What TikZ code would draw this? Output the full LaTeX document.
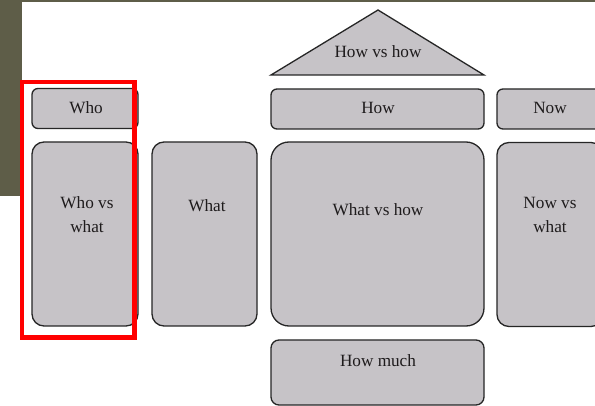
\documentclass[tikz,border=0pt]{standalone}
\usepackage{fontspec}
\setmainfont{Liberation Serif}
\begin{document}
\begin{tikzpicture}[x=1pt,y=-1pt,
  cell/.style={draw=boxline, fill=boxfill, line width=1.3pt, inner sep=0pt},
  lbl/.style={inner sep=0pt, align=center, text=labelink,
    font=\fontsize{17.2}{24}\selectfont},
]
\definecolor{boxfill}{HTML}{C6C3C7}
\definecolor{boxline}{HTML}{262626}
\definecolor{labelink}{HTML}{1E1B1C}
\definecolor{olive}{HTML}{5E5D48}
\clip (0,0) rectangle (595,406);
\fill[white] (0,0) rectangle (595,406);
% slide frame bars
\fill[olive] (0,0) rectangle (595,2.5);
\fill[olive] (0,0) rectangle (22,196);

% roof
\coordinate (roofL) at (271,75);
\coordinate (roofT) at (378,10);
\coordinate (roofR) at (484,75);
\draw[cell, line join=miter] (roofL) -- (roofT) -- (roofR) -- cycle;
\node[lbl] (hvh) at (378,52) {How vs how};

% top row
\node[cell, rounded corners=6pt, minimum width=106pt, minimum height=40pt] (who) at (85,108.5) {};
\node[cell, rounded corners=6pt, minimum width=213pt, minimum height=40pt] (how) at (377.5,109) {};
\node[cell, rounded corners=6pt, minimum width=106pt, minimum height=40pt] (now) at (550,109) {};
\node[lbl] (whoT) at (86,108) {Who};
\node[lbl] (howT) at (378,108) {How};
\node[lbl] (nowT) at (550,108) {Now};

% middle row
\node[cell, rounded corners=12pt, minimum width=106pt, minimum height=184pt] (wvw) at (85,234) {};
\node[cell, rounded corners=12pt, minimum width=105pt, minimum height=184pt] (what) at (204.5,234) {};
\node[cell, rounded corners=18pt, minimum width=213pt, minimum height=184pt] (wvh) at (377.5,234) {};
\node[cell, rounded corners=12pt, minimum width=106pt, minimum height=184pt] (nvw) at (550,234.5) {};
\node[lbl] (wvwT) at (87,215) {Who vs\\what};
\node[lbl] (whatT) at (207,206) {What};
\node[lbl] (wvhT) at (378,210) {What vs how};
\node[lbl] (nvwT) at (550,215) {Now vs\\what};

% bottom
\node[cell, rounded corners=8pt, minimum width=213pt, minimum height=65pt] (much) at (377.5,372.5) {};
\node[lbl] (muchT) at (378,361) {How much};

% highlight frame
\draw[red, line width=4.5pt] (22,82) rectangle (134.5,337.5);
\end{tikzpicture}
\end{document}
